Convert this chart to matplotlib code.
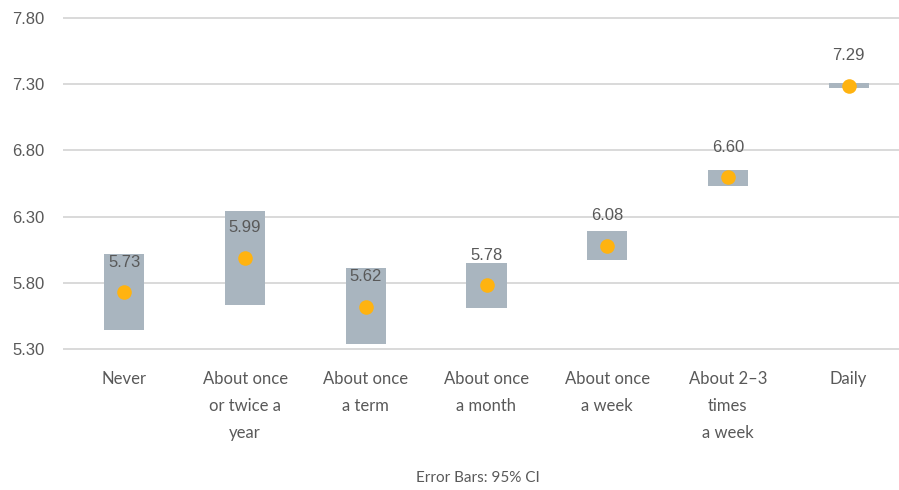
import numpy as np
import matplotlib.pyplot as plt

categories = ["Never", "About once\nor twice a\nyear", "About once\na term",
              "About once\na month", "About once\na week",
              "About 2–3\ntimes\na week", "Daily"]
means = [5.73, 5.99, 5.62, 5.78, 6.08, 6.60, 7.29]
ci_low = [5.44, 5.63, 5.34, 5.61, 5.97, 6.53, 7.27]
ci_high = [6.02, 6.34, 5.91, 5.95, 6.19, 6.65, 7.31]
yticks = [5.30, 5.80, 6.30, 6.80, 7.30, 7.80]

text_col = "#595959"
box_col = "#A9B5BF"
dot_col = "#FFB310"
grid_col = "#D9D9D9"

fig = plt.figure(figsize=(8.99, 4.90), dpi=100)
ax = fig.add_axes([64 / 899, 1 - 349 / 490, 845 / 899, 331 / 490])

x = np.arange(len(categories))
ax.set_xlim(-0.5, len(categories) - 0.5)
ax.set_ylim(5.30, 7.80)

for t in yticks:
    ax.axhline(t, color=grid_col, lw=1.4, zorder=0, clip_on=False)

ax.bar(x, np.array(ci_high) - np.array(ci_low), bottom=ci_low, width=1 / 3,
       color=box_col, zorder=2)
ax.scatter(x, means, s=110, color=dot_col, zorder=3, linewidths=0)

for xi, m in zip(x, means):
    ax.annotate(f"{m:.2f}", (xi, m), xytext=(0, 21.5), textcoords="offset points",
                ha="center", va="center", fontsize=12, color=text_col,
                family="Liberation Sans", zorder=4)

for s in ax.spines.values():
    s.set_visible(False)
ax.tick_params(length=0)
ax.set_yticks(yticks)
ax.set_yticklabels([f"{t:.2f}" for t in yticks], family="Liberation Sans",
                   fontsize=12, color=text_col)
ax.tick_params(axis="y", pad=14)
ax.set_xticks(x)
ax.set_xticklabels(categories, family="Lato", fontsize=12, color=text_col,
                   linespacing=1.85, va="top")
ax.tick_params(axis="x", pad=16)

fig.text(478 / 899, 1 - 478 / 490, "Error Bars: 95% CI", ha="center", va="center",
         family="Lato", fontsize=11, color=text_col)

fig.savefig("out.png", dpi=100)
